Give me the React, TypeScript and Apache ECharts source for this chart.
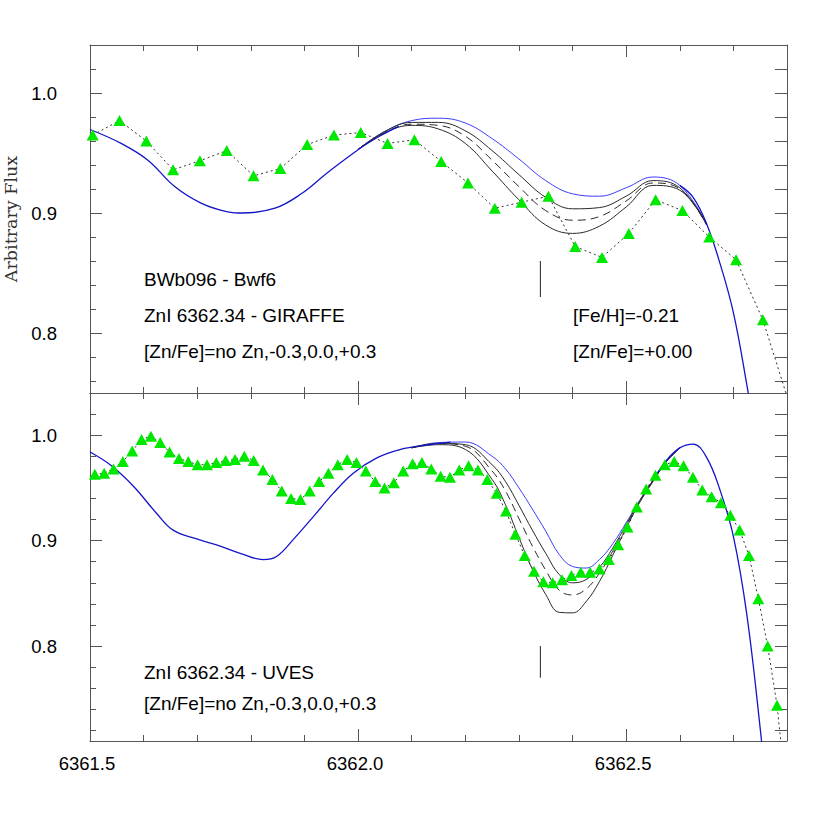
import React, { useEffect, useRef } from "react";
import * as echarts from "echarts";

// ---------- axis ranges and ticks ----------
const X_MIN = 6361.5;
const X_MAX = 6362.8;
const xMajorTicks = [6361.5, 6362.0, 6362.5];
const xMinorTicks = [6361.6, 6361.7, 6361.8, 6361.9, 6362.1, 6362.2, 6362.3, 6362.4, 6362.6, 6362.7];
const xLabels = [6361.5, 6362.0, 6362.5];

const TOP_Y_MIN = 0.75;
const TOP_Y_MAX = 1.04;
const topYMajor = [0.8, 0.9, 1.0];
const topYMinor = [0.76, 0.78, 0.82, 0.84, 0.86, 0.88, 0.92, 0.94, 0.96, 0.98, 1.02];
const topYRight = [0.76, 0.78, 0.8, 0.82, 0.84, 0.86, 0.88, 0.9, 0.92, 0.94, 0.96, 0.98, 1.0, 1.02];

const BOT_Y_MIN = 0.71;
const BOT_Y_MAX = 1.04;
const botYMajor = [0.8, 0.9, 1.0];
const botYMinor = [0.72, 0.74, 0.76, 0.78, 0.82, 0.84, 0.86, 0.88, 0.92, 0.94, 0.96, 0.98, 1.02];
const botYRight = [0.72, 0.74, 0.76, 0.78, 0.8, 0.82, 0.84, 0.86, 0.88, 0.9, 0.92, 0.94, 0.96, 0.98, 1.0, 1.02];

// ---------- top panel (GIRAFFE) ----------
const giraffeWave = [
  6361.505, 6361.555, 6361.605, 6361.655, 6361.705, 6361.755, 6361.805, 6361.855, 6361.905, 6361.955,
  6362.005, 6362.055, 6362.105, 6362.155, 6362.205, 6362.255, 6362.305, 6362.355, 6362.405, 6362.455,
  6362.505, 6362.555, 6362.605, 6362.655, 6362.705, 6362.755, 6362.805,
];
const giraffeFlux = [
  0.965, 0.977, 0.96, 0.936, 0.9435, 0.952, 0.931, 0.937, 0.957, 0.965,
  0.967, 0.958, 0.961, 0.943, 0.925, 0.904, 0.909, 0.914, 0.872, 0.863,
  0.883, 0.911, 0.902, 0.88, 0.861, 0.811, 0.74,
];

const topBaseLeftWave = [6361.5, 6361.558, 6361.608, 6361.658, 6361.708, 6361.757, 6361.785, 6361.845, 6361.894, 6361.944, 6362.004, 6362.04, 6362.075];
const topBaseLeftFlux = [0.9696, 0.958, 0.944, 0.922, 0.908, 0.901, 0.9, 0.904, 0.916, 0.934, 0.954, 0.964, 0.972];
const topBaseRightWave = [6362.6, 6362.625, 6362.65, 6362.675, 6362.7, 6362.725, 6362.75, 6362.8];
const topBaseRightFlux = [0.923, 0.913, 0.891, 0.858, 0.817, 0.757, 0.69, 0.56];

const topModelWave = [6362.0, 6362.05, 6362.1, 6362.15, 6362.2, 6362.25, 6362.3, 6362.35, 6362.4, 6362.45, 6362.5, 6362.55, 6362.6, 6362.65];
const topNoZn = [0.953, 0.968, 0.977, 0.979, 0.975, 0.962, 0.945, 0.927, 0.916, 0.914, 0.921, 0.93, 0.923, 0.891];
const topZnM03 = [0.953, 0.968, 0.9755, 0.9755, 0.9685, 0.952, 0.932, 0.913, 0.9035, 0.9045, 0.914, 0.927, 0.921, 0.891];
const topZn00 = [0.953, 0.967, 0.974, 0.973, 0.964, 0.944, 0.922, 0.902, 0.894, 0.897, 0.91, 0.925, 0.92, 0.89];
const topZnP03 = [0.953, 0.967, 0.973, 0.97, 0.958, 0.935, 0.911, 0.89, 0.883, 0.889, 0.905, 0.923, 0.919, 0.89];

const topMarkWave = [6362.34, 6362.34];
const topMarkFlux = [0.83, 0.86];

// ---------- bottom panel (UVES) ----------
const uvesStart = 6361.509;
const uvesStep = 0.01743;
const uvesFlux = [
  0.963, 0.964, 0.968, 0.975, 0.985, 0.996, 0.999, 0.993, 0.984, 0.978,
  0.975, 0.972, 0.972, 0.974, 0.976, 0.977, 0.98, 0.976, 0.967, 0.958,
  0.947, 0.94, 0.939, 0.947, 0.956, 0.964, 0.972, 0.977, 0.974, 0.966,
  0.956, 0.95, 0.955, 0.966, 0.973, 0.974, 0.968, 0.961, 0.96, 0.967,
  0.971, 0.967, 0.958, 0.945, 0.928, 0.906, 0.886, 0.871, 0.861, 0.86,
  0.863, 0.867, 0.87, 0.87, 0.873, 0.882, 0.896, 0.913, 0.932, 0.949,
  0.962, 0.972, 0.975, 0.971, 0.96, 0.948, 0.9415, 0.936, 0.924, 0.91,
  0.886, 0.845, 0.8, 0.744, 0.66,
];

const botBaseLeftWave = [6361.5, 6361.54, 6361.581, 6361.624, 6361.655, 6361.699, 6361.736, 6361.78, 6361.823, 6361.848, 6361.879, 6361.917, 6361.954, 6361.991, 6362.035, 6362.078, 6362.134, 6362.172];
const botBaseLeftFlux = [0.984, 0.971, 0.9516, 0.926, 0.91, 0.9016, 0.896, 0.888, 0.882, 0.885, 0.901, 0.923, 0.945, 0.964, 0.9785, 0.9864, 0.991, 0.9934];
const botBaseRightWave = [6362.55, 6362.575, 6362.6, 6362.625, 6362.65, 6362.675, 6362.7, 6362.725, 6362.75, 6362.775, 6362.8];
const botBaseRightFlux = [0.957, 0.976, 0.988, 0.9915, 0.979, 0.948, 0.904, 0.83, 0.722, 0.6, 0.47];

const botModelWave = [6362.1, 6362.15, 6362.2, 6362.25, 6362.275, 6362.3, 6362.325, 6362.35, 6362.375, 6362.4, 6362.425, 6362.45, 6362.475, 6362.5, 6362.525, 6362.55, 6362.575, 6362.6];
const botNoZn = [0.988, 0.993, 0.9935, 0.98, 0.968, 0.95, 0.93, 0.909, 0.887, 0.8755, 0.874, 0.882, 0.897, 0.917, 0.938, 0.957, 0.975, 0.988];
const botZnM03 = [0.988, 0.9923, 0.991, 0.972, 0.956, 0.9335, 0.91, 0.888, 0.868, 0.86, 0.863, 0.8745, 0.893, 0.915, 0.9373, 0.957, 0.975, 0.988];
const botZn00 = [0.988, 0.992, 0.9895, 0.966, 0.947, 0.921, 0.895, 0.872, 0.853, 0.8485, 0.854, 0.869, 0.89, 0.914, 0.937, 0.9565, 0.975, 0.988];
const botZnP03 = [0.988, 0.991, 0.9865, 0.958, 0.934, 0.903, 0.873, 0.849, 0.832, 0.8315, 0.842, 0.861, 0.886, 0.912, 0.936, 0.956, 0.975, 0.988];

const botMarkWave = [6362.34, 6362.34];
const botMarkFlux = [0.77, 0.8];

// ---------- styles ----------
const AXIS_COLOR = "#555";
const GREEN = "#00e800";
const DARK_BLUE = "#1414c8";
const LIGHT_BLUE = "#3c3cff";
const MODEL_BLACK = "#2a2a2a";
const SANS = "Liberation Sans, Arial, sans-serif";

const zip = (w: number[], f: number[]) => w.map((x, i) => [x, f[i]]);

function xAx(grid: number, position: string, ticks: number[], len: number, line: boolean, labels?: number[]) {
  return {
    type: "value",
    gridIndex: grid,
    position,
    min: X_MIN,
    max: X_MAX,
    axisLine: { show: line, onZero: false, lineStyle: { color: AXIS_COLOR, width: 1 } },
    axisTick: { show: true, inside: true, length: len, customValues: ticks, lineStyle: { color: AXIS_COLOR, width: 1 } },
    axisLabel: labels
      ? {
          show: true,
          customValues: labels,
          formatter: (v: number) => v.toFixed(1),
          fontFamily: SANS,
          fontSize: 18.5,
          color: "#000",
          margin: 13,
          padding: [0, 6, 0, 0],
        }
      : { show: false },
    splitLine: { show: false },
  };
}

function yAx(grid: number, position: string, min: number, max: number, ticks: number[], len: number, line: boolean, labels?: number[]) {
  return {
    type: "value",
    gridIndex: grid,
    position,
    min,
    max,
    axisLine: { show: line, onZero: false, lineStyle: { color: AXIS_COLOR, width: 1 } },
    axisTick: { show: true, inside: true, length: len, customValues: ticks, lineStyle: { color: AXIS_COLOR, width: 1 } },
    axisLabel: labels
      ? {
          show: true,
          customValues: labels,
          formatter: (v: number) => v.toFixed(1),
          fontFamily: SANS,
          fontSize: 18.5,
          color: "#000",
          margin: 33,
          padding: [8, 0, 0, 0],
        }
      : { show: false },
    splitLine: { show: false },
  };
}

function modelLine(name: string, xi: number, yi: number, w: number[], f: number[], color: string, width: number, type: any = "solid") {
  return {
    name,
    type: "line",
    xAxisIndex: xi,
    yAxisIndex: yi,
    data: zip(w, f),
    showSymbol: false,
    smooth: 0.4,
    clip: true,
    lineStyle: { color, width, type },
    z: 2,
  };
}

function dataLine(name: string, xi: number, yi: number, w: number[], f: number[]) {
  return {
    name,
    type: "line",
    xAxisIndex: xi,
    yAxisIndex: yi,
    data: zip(w, f),
    showSymbol: true,
    showAllSymbol: true,
    symbol: "triangle",
    symbolSize: [12, 11],
    clip: true,
    itemStyle: { color: GREEN, borderWidth: 0 },
    lineStyle: { color: "#333", width: 1, type: [2, 3] },
    z: 5,
  };
}

export default function App() {
  const ref = useRef<HTMLDivElement>(null);

  useEffect(() => {
    if (!ref.current) return;
    const chart = echarts.init(ref.current, null, { renderer: "svg" });

    const uvesWave = uvesFlux.map((_, i) => uvesStart + i * uvesStep);

    const textStyle = (text: string, x: number, y: number) => ({
      type: "text",
      x,
      y,
      style: { text, fontFamily: SANS, fontSize: 19, fill: "#000", align: "left", verticalAlign: "middle" },
      z: 10,
    });

    const option: any = {
      animation: false,
      backgroundColor: "#fff",
      grid: [
        { left: 90, top: 45, width: 697, height: 348, containLabel: false },
        { left: 90, top: 393, width: 697, height: 348, containLabel: false },
      ],
      xAxis: [
        xAx(0, "bottom", xMajorTicks, 12, true),
        xAx(0, "bottom", xMinorTicks, 6, false),
        xAx(0, "top", xMajorTicks, 12, true),
        xAx(0, "top", xMinorTicks, 6, false),
        xAx(1, "bottom", xMajorTicks, 12, true, xLabels),
        xAx(1, "bottom", xMinorTicks, 6, false),
        xAx(1, "top", xMajorTicks, 12, true),
        xAx(1, "top", xMinorTicks, 6, false),
      ],
      yAxis: [
        yAx(0, "left", TOP_Y_MIN, TOP_Y_MAX, topYMajor, 12, true, topYMajor),
        yAx(0, "left", TOP_Y_MIN, TOP_Y_MAX, topYMinor, 6, false),
        yAx(0, "right", TOP_Y_MIN, TOP_Y_MAX, topYRight, 12, true),
        yAx(1, "left", BOT_Y_MIN, BOT_Y_MAX, botYMajor, 12, true, botYMajor),
        yAx(1, "left", BOT_Y_MIN, BOT_Y_MAX, botYMinor, 6, false),
        yAx(1, "right", BOT_Y_MIN, BOT_Y_MAX, botYRight, 12, true),
      ],
      series: [
        // top panel
        modelLine("top no Zn", 0, 0, topModelWave, topNoZn, LIGHT_BLUE, 1),
        modelLine("top -0.3", 0, 0, topModelWave, topZnM03, MODEL_BLACK, 1),
        modelLine("top 0.0", 0, 0, topModelWave, topZn00, MODEL_BLACK, 1, [8, 5]),
        modelLine("top +0.3", 0, 0, topModelWave, topZnP03, MODEL_BLACK, 1),
        modelLine("top base L", 0, 0, topBaseLeftWave, topBaseLeftFlux, DARK_BLUE, 1.3),
        modelLine("top base R", 0, 0, topBaseRightWave, topBaseRightFlux, DARK_BLUE, 1.3),
        {
          type: "line",
          xAxisIndex: 0,
          yAxisIndex: 0,
          data: zip(topMarkWave, topMarkFlux),
          showSymbol: false,
          lineStyle: { color: "#222", width: 1 },
          z: 3,
        },
        dataLine("GIRAFFE", 0, 0, giraffeWave, giraffeFlux),
        // bottom panel
        modelLine("bot no Zn", 4, 3, botModelWave, botNoZn, LIGHT_BLUE, 1),
        modelLine("bot -0.3", 4, 3, botModelWave, botZnM03, MODEL_BLACK, 1),
        modelLine("bot 0.0", 4, 3, botModelWave, botZn00, MODEL_BLACK, 1, [8, 5]),
        modelLine("bot +0.3", 4, 3, botModelWave, botZnP03, MODEL_BLACK, 1),
        modelLine("bot base L", 4, 3, botBaseLeftWave, botBaseLeftFlux, DARK_BLUE, 1.3),
        modelLine("bot base R", 4, 3, botBaseRightWave, botBaseRightFlux, DARK_BLUE, 1.3),
        {
          type: "line",
          xAxisIndex: 4,
          yAxisIndex: 3,
          data: zip(botMarkWave, botMarkFlux),
          showSymbol: false,
          lineStyle: { color: "#222", width: 1 },
          z: 3,
        },
        dataLine("UVES", 4, 3, uvesWave, uvesFlux),
      ],
      graphic: [
        {
          type: "text",
          x: 11,
          y: 219,
          rotation: Math.PI / 2,
          style: {
            text: "Arbitrary Flux",
            fontFamily: "DejaVu Serif, serif",
            fontSize: 17.5,
            fill: "#333",
            align: "center",
            verticalAlign: "middle",
          },
        },
        textStyle("BWb096 - Bwf6", 144, 279),
        textStyle("ZnI 6362.34 - GIRAFFE", 144, 315),
        textStyle("[Zn/Fe]=no Zn,-0.3,0.0,+0.3", 144, 351),
        textStyle("[Fe/H]=-0.21", 573, 315),
        textStyle("[Zn/Fe]=+0.00", 573, 351),
        textStyle("ZnI 6362.34 - UVES", 144, 672),
        textStyle("[Zn/Fe]=no Zn,-0.3,0.0,+0.3", 144, 703),
      ],
    };

    chart.setOption(option);
    return () => chart.dispose();
  }, []);

  return (
    <div
      ref={ref}
      style={{ position: "fixed", left: 0, top: 0, width: 830, height: 830, background: "#fff" }}
    />
  );
}
